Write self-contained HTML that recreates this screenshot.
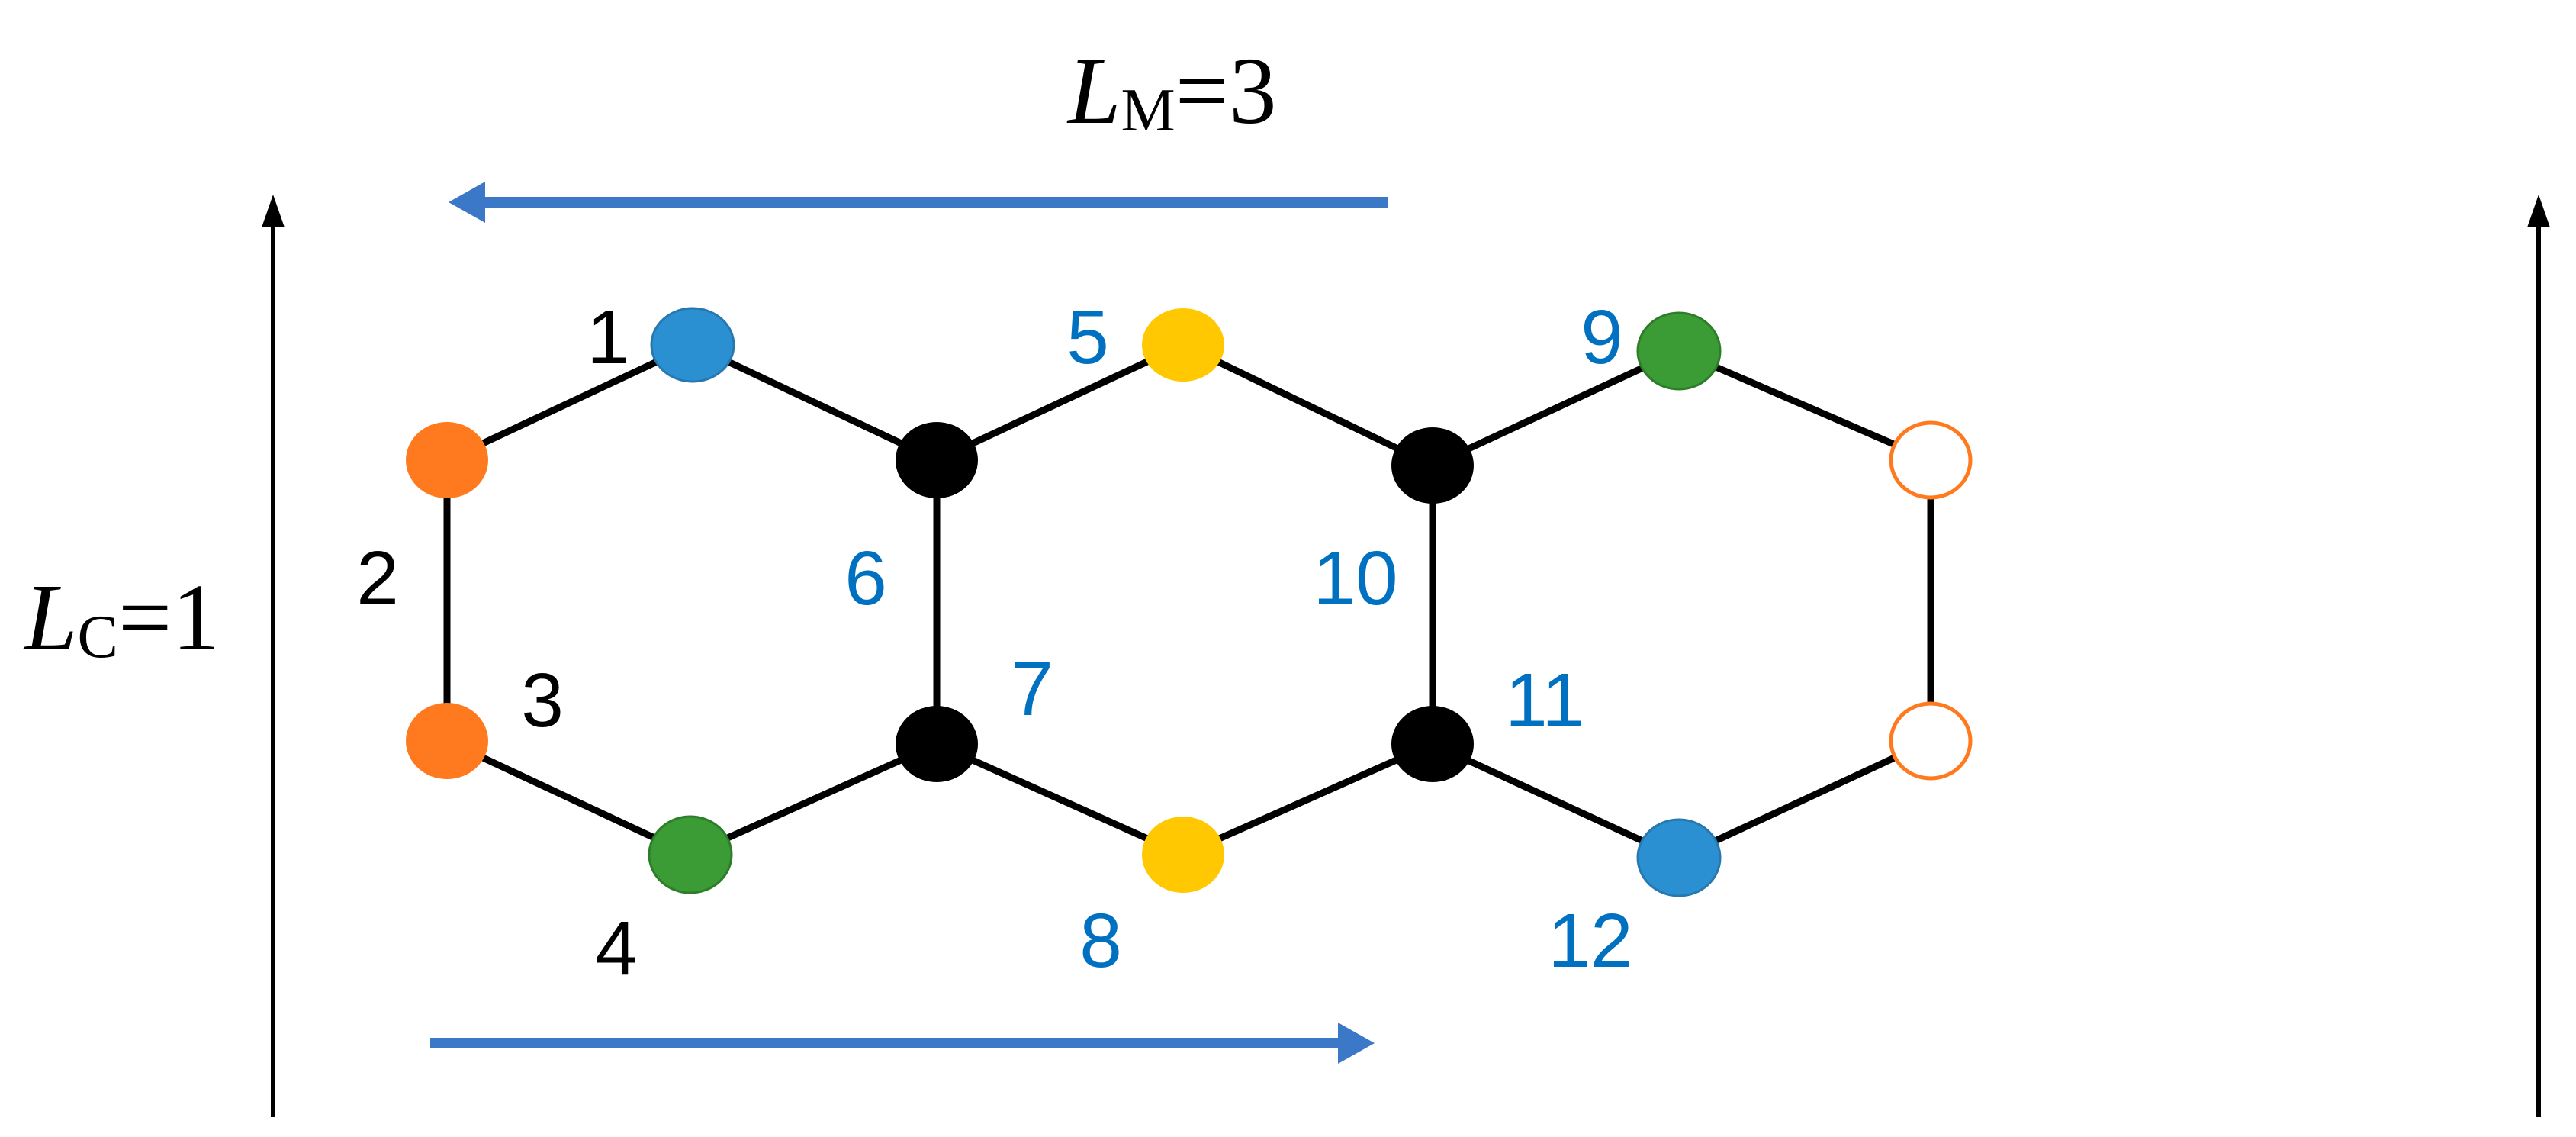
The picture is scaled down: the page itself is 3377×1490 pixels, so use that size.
<!DOCTYPE html>
<html><head><meta charset="utf-8"><style>html,body{margin:0;padding:0;background:#fff}svg{display:block}</style></head>
<body>
<svg width="3377" height="1490" viewBox="0 0 3377 1490" xmlns="http://www.w3.org/2000/svg">
<!-- black vertical arrows -->
<line x1="358" y1="1464" x2="358" y2="290" stroke="#000" stroke-width="6"/>
<polygon points="358,255 343,298 373,298" fill="#000"/>
<line x1="3328" y1="1464" x2="3328" y2="290" stroke="#000" stroke-width="6"/>
<polygon points="3328,255 3313,298 3343,298" fill="#000"/>
<!-- blue arrows -->
<line x1="1820" y1="265" x2="630" y2="265" stroke="#3b78c8" stroke-width="14"/>
<polygon points="588,265 636,238 636,292" fill="#3b78c8"/>
<line x1="564" y1="1367" x2="1760" y2="1367" stroke="#3b78c8" stroke-width="14"/>
<polygon points="1802,1367 1754,1340 1754,1394" fill="#3b78c8"/>
<!-- bonds -->
<g stroke="#000" stroke-width="9" fill="none">
<polyline points="586,603 908,452 1228,603 1551,452 1878,610 2201,460 2531,603 2531,971 2201,1124 1878,975 1551,1120 1228,975 905,1120 586,971 586,603"/>
<line x1="1228" y1="603" x2="1228" y2="975"/>
<line x1="1878" y1="610" x2="1878" y2="975"/>
</g>
<!-- nodes -->
<g>
<ellipse cx="908" cy="452" rx="54" ry="48" fill="#2a90d2" stroke="#2878b0" stroke-width="3"/>
<ellipse cx="586" cy="603" rx="54" ry="50" fill="#ff7a1f"/>
<ellipse cx="586" cy="971" rx="54" ry="50" fill="#ff7a1f"/>
<ellipse cx="905" cy="1120" rx="54" ry="50" fill="#3b9b35" stroke="#2e7d2a" stroke-width="3"/>
<ellipse cx="1228" cy="603" rx="54" ry="50" fill="#000"/>
<ellipse cx="1228" cy="975" rx="54" ry="50" fill="#000"/>
<ellipse cx="1551" cy="452" rx="54" ry="48" fill="#ffc800"/>
<ellipse cx="1551" cy="1120" rx="54" ry="50" fill="#ffc800"/>
<ellipse cx="1878" cy="610" rx="54" ry="50" fill="#000"/>
<ellipse cx="1878" cy="975" rx="54" ry="50" fill="#000"/>
<ellipse cx="2201" cy="460" rx="54" ry="50" fill="#3b9b35" stroke="#2e7d2a" stroke-width="3"/>
<ellipse cx="2201" cy="1124" rx="54" ry="50" fill="#2a90d2" stroke="#2878b0" stroke-width="3"/>
<ellipse cx="2531" cy="603" rx="52" ry="49" fill="#fff" stroke="#ff7a1f" stroke-width="5"/>
<ellipse cx="2531" cy="971" rx="52" ry="49" fill="#fff" stroke="#ff7a1f" stroke-width="5"/>
</g>
<!-- labels -->
<g font-family="Liberation Sans, sans-serif" font-size="100" text-anchor="middle">
<text x="797" y="476" fill="#000">1</text>
<text x="495" y="792" fill="#000">2</text>
<text x="711" y="952" fill="#000">3</text>
<text x="808" y="1277" fill="#000">4</text>
<text x="1426" y="476" fill="#0070c0">5</text>
<text x="1135" y="792" fill="#0070c0">6</text>
<text x="1353" y="937" fill="#0070c0">7</text>
<text x="1443" y="1267" fill="#0070c0">8</text>
<text x="2100" y="476" fill="#0070c0">9</text>
<text x="1777" y="792" fill="#0070c0">10</text>
<text x="2025" y="952" fill="#0070c0">11</text>
<text x="2085" y="1267" fill="#0070c0">12</text>
</g>
<g font-family="Liberation Serif, serif" font-size="125" fill="#000">
<text x="1400" y="161"><tspan font-style="italic">L</tspan><tspan font-size="80" dy="10">M</tspan><tspan dy="-10">=3</tspan></text>
<text x="32" y="851"><tspan font-style="italic">L</tspan><tspan font-size="80" dy="10">C</tspan><tspan dy="-10">=1</tspan></text>
</g>
</svg>
</body></html>
